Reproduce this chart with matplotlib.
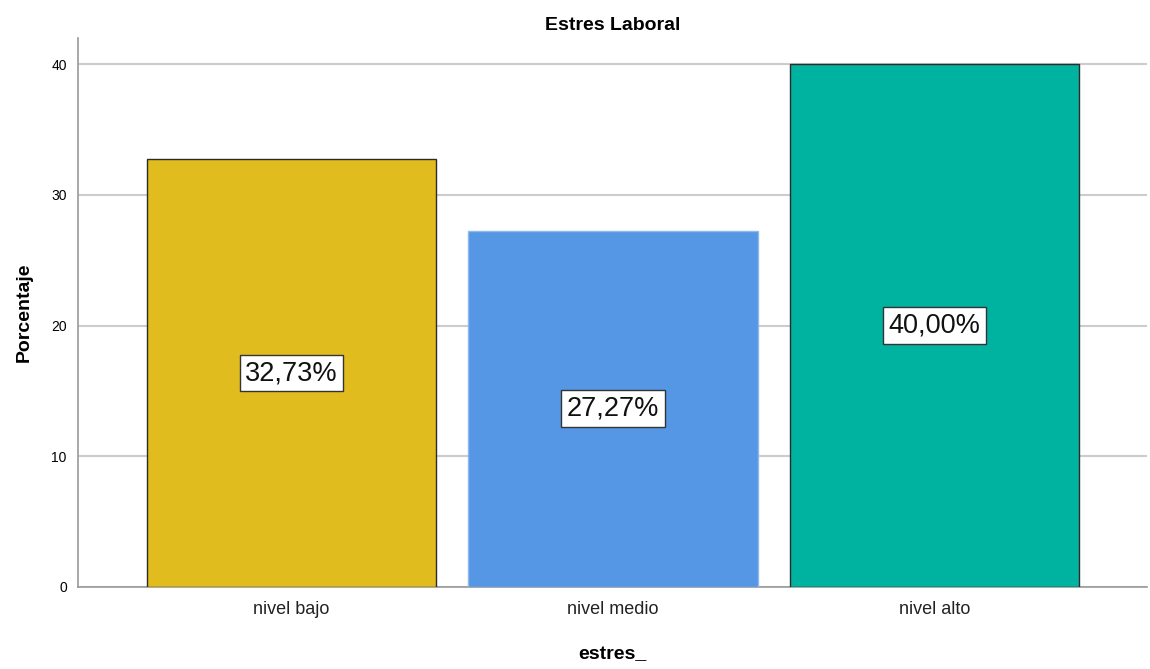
import matplotlib
matplotlib.use("Agg")
from matplotlib import pyplot as plt
import numpy as np

categories = ['nivel bajo', 'nivel medio', 'nivel alto']
percentages = [32.73, 27.27, 40.00]
bar_colors = ['#E0BC1E', '#5596E5', '#00B3A0']
edge_colors = ['#2b2b2b', '#8fb8ee', '#2b2b2b']
value_labels = ['32,73%', '27,27%', '40,00%']
y_ticks = [0, 10, 20, 30, 40]

plt.rcParams['font.family'] = ['Liberation Sans', 'DejaVu Sans']

fig = plt.figure(figsize=(11.5, 6.69), dpi=100)
ax = fig.add_axes([0.0678, 0.1226, 0.9296, 0.8206])

x_pos = np.arange(len(categories))
ax.bar(x_pos, percentages, width=0.9, color=bar_colors, edgecolor=edge_colors,
       linewidth=1.0, zorder=3)

# percentage labels centred in each bar
for x, p, lab in zip(x_pos, percentages, value_labels):
    ax.text(x, p / 2, lab, ha='center', va='center', fontsize=19.5, color='#111111',
            zorder=4,
            bbox=dict(boxstyle='square,pad=0.2', facecolor='white', edgecolor='#333333',
                      linewidth=1.0))

ax.set_xlim(-0.664, 2.661)
ax.set_ylim(0, 42)
ax.set_yticks(y_ticks)
ax.set_yticklabels([str(t) for t in y_ticks], fontsize=10)
ax.set_xticks(x_pos)
ax.set_xticklabels(categories, fontsize=13, color='#222222')
ax.tick_params(axis='both', length=0)
ax.tick_params(axis='y', pad=8)
ax.tick_params(axis='x', pad=10)

ax.grid(axis='y', color='#cccccc', linewidth=1.5, zorder=0)
ax.set_axisbelow(True)
for s in ['top', 'right']:
    ax.spines[s].set_visible(False)
for s in ['left', 'bottom']:
    ax.spines[s].set_color('#999999')
    ax.spines[s].set_linewidth(1.2)

ax.set_title('Estres Laboral', fontsize=14, fontweight='bold', pad=6)
ax.set_xlabel('estres_', fontsize=14, fontweight='bold', labelpad=20)
ax.set_ylabel('Porcentaje', fontsize=14, fontweight='bold', labelpad=13)

fig.savefig('out.png', dpi=100)
